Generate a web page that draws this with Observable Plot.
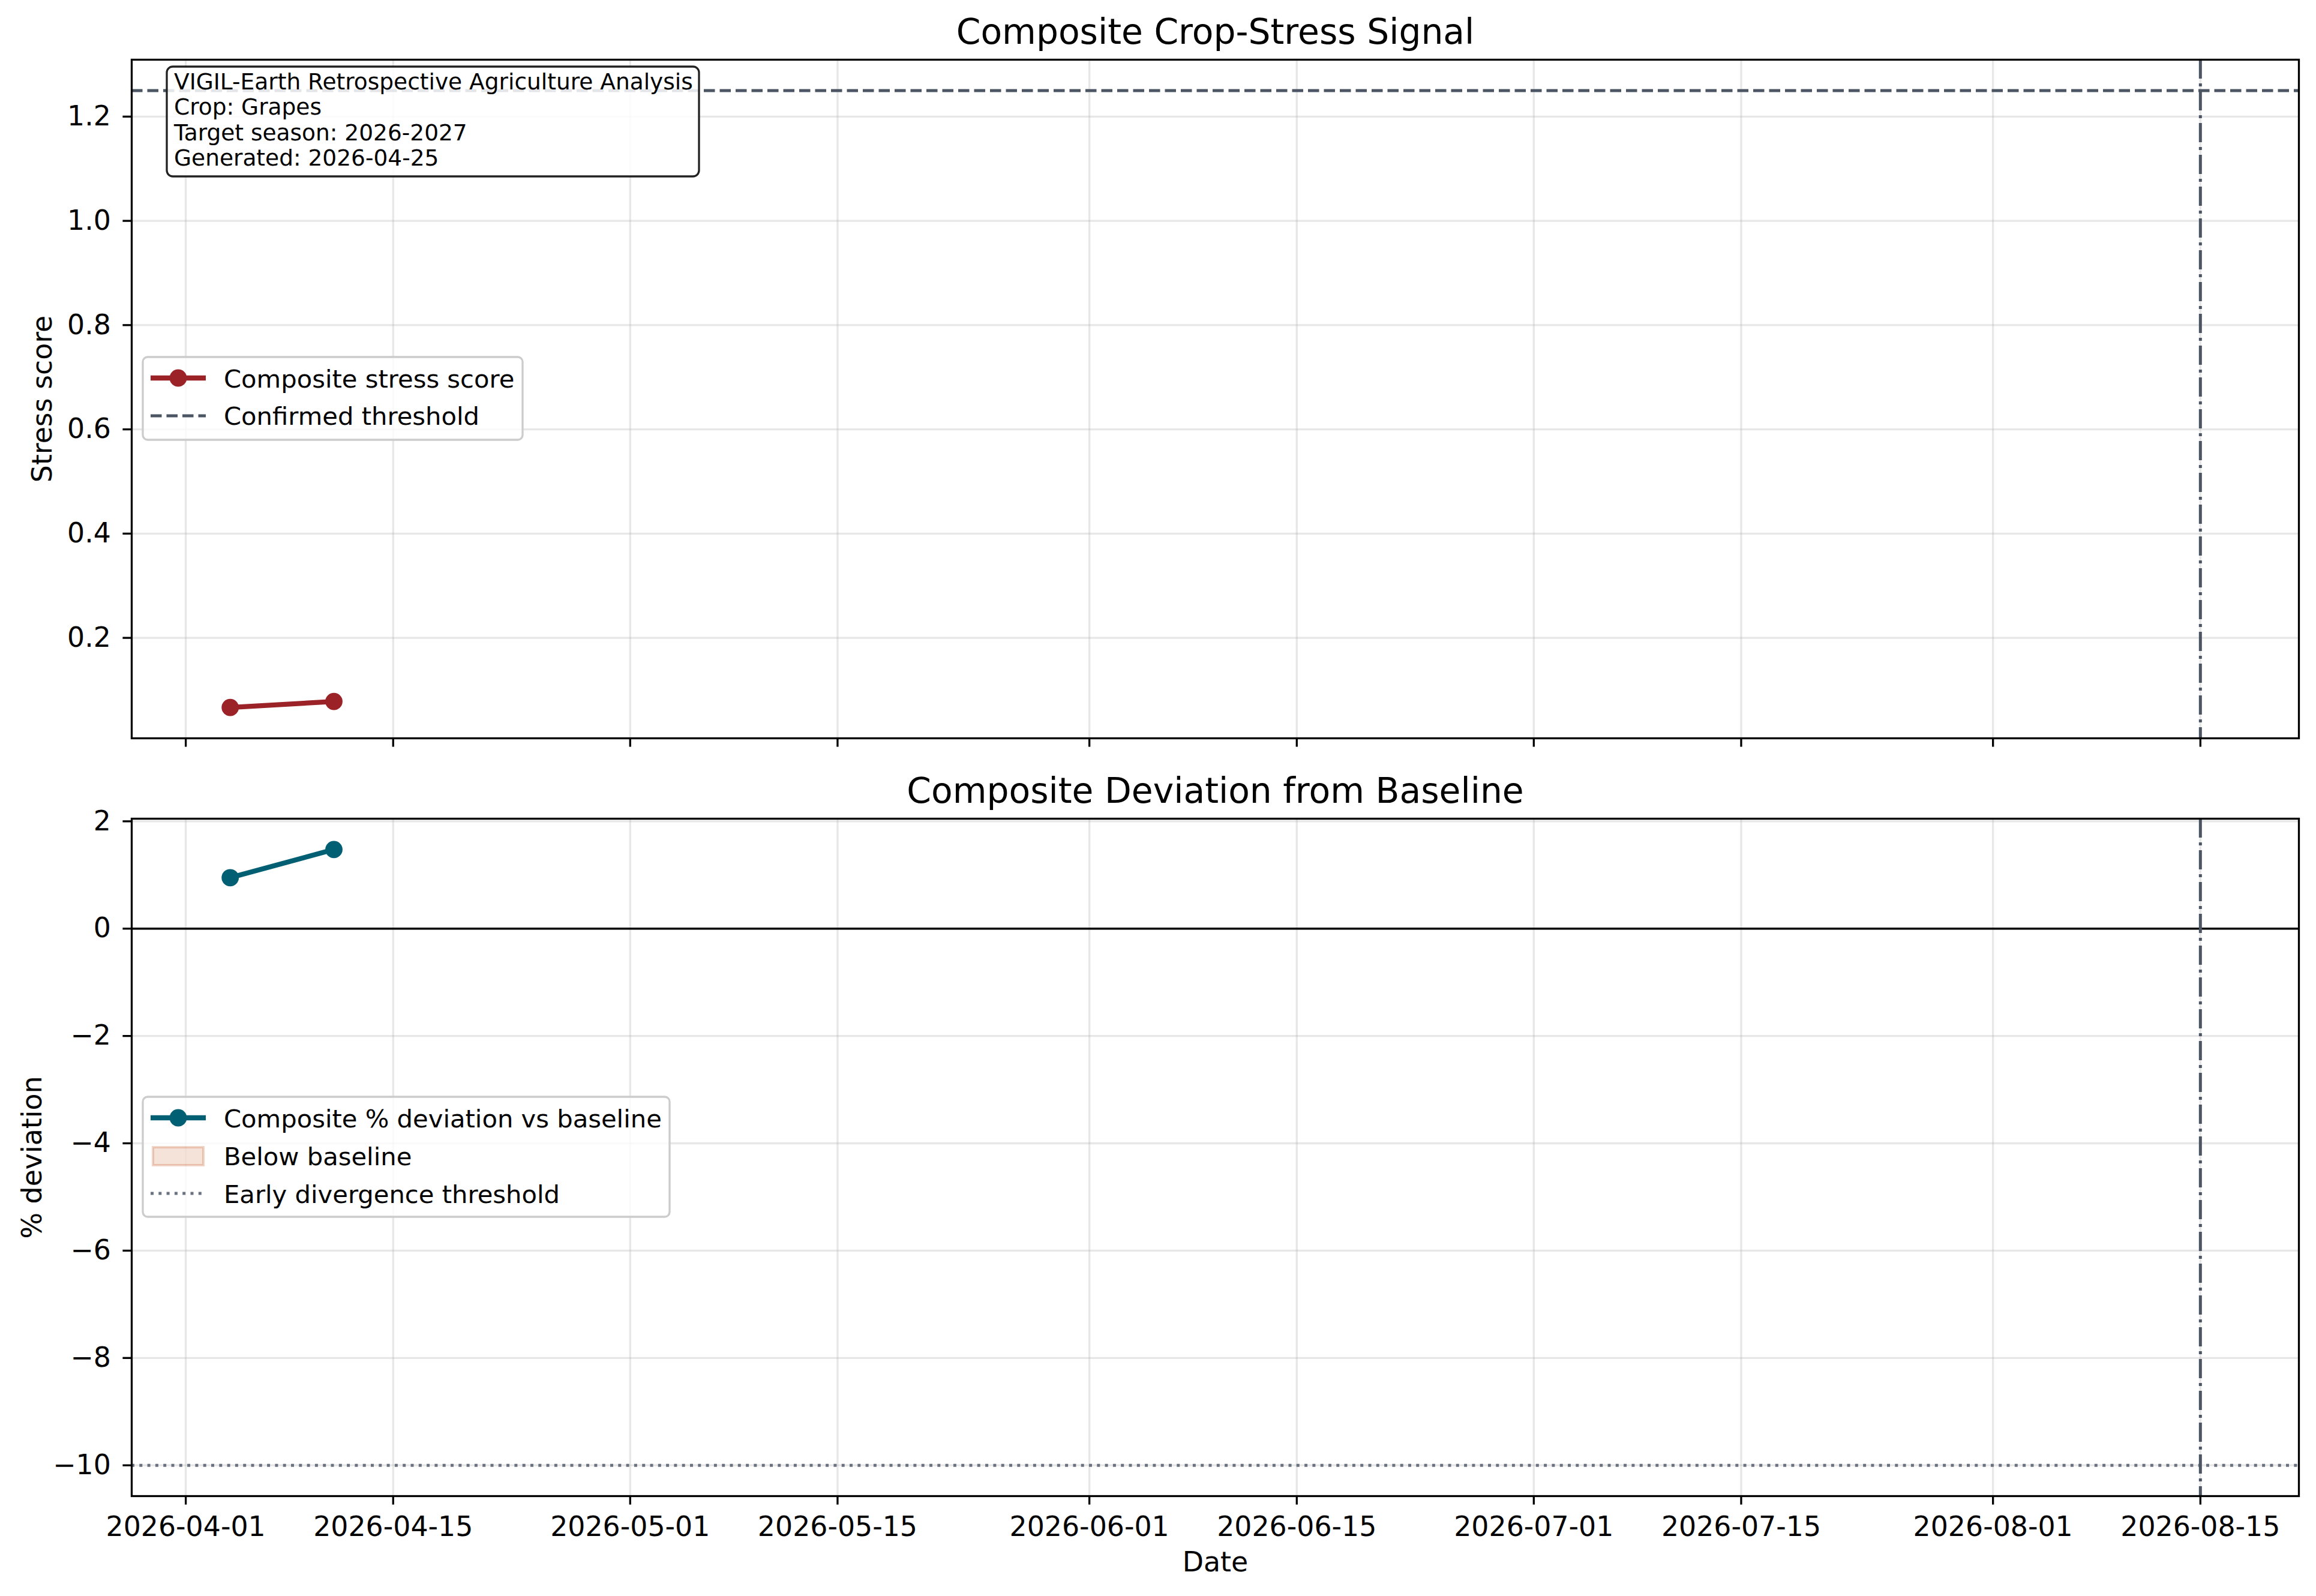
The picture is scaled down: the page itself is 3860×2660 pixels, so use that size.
<!DOCTYPE html>
<html>
<head>
<meta charset="utf-8">
<script src="https://cdn.jsdelivr.net/npm/d3@7"></script>
<script src="https://cdn.jsdelivr.net/npm/@observablehq/plot@0.6"></script>
<style>
  html, body { margin: 0; padding: 0; background: #ffffff; }
  #chart { position: relative; width: 3860px; height: 2660px; overflow: hidden; font-family: "DejaVu Sans"; background: #fff; }
  #chart > svg { position: absolute; left: 0; max-width: none; }
</style>
</head>
<body>
<div id="chart"></div>
<script>
// ---------------- data ----------------
const dates = ["2026-04-04", "2026-04-11"];
const stressScore = [0.0665, 0.078];
const deviationPct = [0.95, 1.475];
const confirmedThreshold = 1.25;
const earlyDivergenceThreshold = -10;
const seasonCutoff = "2026-08-15";
const xTickLabels = ["2026-04-01", "2026-04-15", "2026-05-01", "2026-05-15", "2026-06-01",
                     "2026-06-15", "2026-07-01", "2026-07-15", "2026-08-01", "2026-08-15"];
const stressTicks = [0.2, 0.4, 0.6, 0.8, 1.0, 1.2];
const deviationTicks = [-10, -8, -6, -4, -2, 0, 2];
const titles = ["Composite Crop-Stress Signal", "Composite Deviation from Baseline"];
const xLabel = "Date";
const yLabelTop = "Stress score";
const yLabelBottom = "% deviation";
const legendTopLabels = ["Composite stress score", "Confirmed threshold"];
const legendBottomLabels = ["Composite % deviation vs baseline", "Below baseline", "Early divergence threshold"];
const infoLines = ["VIGIL-Earth Retrospective Agriculture Analysis", "Crop: Grapes",
                   "Target season: 2026-2027", "Generated: 2026-04-25"];

// ---------------- styles ----------------
const C = { stress: "#9b2226", deviation: "#005f73", below: "#bb3e03", ref: "#4b5563", dotted: "#6b7280", grid: "#b0b0b0" };
const FONT = "DejaVu Sans";
const W = 3860;
const ML = 219, MR = 29;
const TICK = 14.6, SPINE = 3.3;

// ---------------- derived table ----------------
const parse = d3.utcParse("%Y-%m-%d");
const rows = dates.map((d, i) => ({ date: parse(d), stress: stressScore[i], dev: deviationPct[i] }));
const cutoff = parse(seasonCutoff);
const tickDates = xTickLabels.map(parse);
const fmtDate = d3.utcFormat("%Y-%m-%d");

const xLo = d3.min(rows, d => d.date), xHi = cutoff;
const xPad = 0.05 * (xHi - xLo);
const xDomain = [new Date(+xLo - xPad), new Date(+xHi + xPad)];

const sLo = d3.min(rows, d => d.stress), sHi = Math.max(d3.max(rows, d => d.stress), confirmedThreshold);
const sPad = 0.05 * (sHi - sLo);
const dLo = Math.min(d3.min(rows, d => d.dev), earlyDivergenceThreshold), dHi = d3.max(rows, d => d.dev);
const dPad = 0.05 * (dHi - dLo);

const minusFmt = d => (d < 0 ? "\u2212" + Math.abs(d) : String(d));
const baseStyle = { fontFamily: FONT, fontSize: "45.8px", color: "#000", background: "transparent", overflow: "visible" };
const gridOpts = { stroke: C.grid, strokeOpacity: 0.3, strokeWidth: 3.3 };
const labelText = { text: d => d, fill: "#000", lineAnchor: "middle", textAnchor: "middle" };

// ---------------- top panel ----------------
const topPlot = Plot.plot({
  width: W, height: 1300,
  marginTop: 99, marginBottom: 70, marginLeft: ML, marginRight: MR,
  x: { type: "utc", domain: xDomain },
  y: { domain: [sLo - sPad, sHi + sPad] },
  style: baseStyle,
  marks: [
    Plot.gridX(tickDates, gridOpts),
    Plot.gridY(stressTicks, gridOpts),
    Plot.ruleY([confirmedThreshold], { stroke: C.ref, strokeWidth: 5, strokeDasharray: "18.5,8" }),
    Plot.ruleX([cutoff], { stroke: C.ref, strokeWidth: 5, strokeDasharray: "32,8,5,8" }),
    Plot.line(rows, { x: "date", y: "stress", stroke: C.stress, strokeWidth: 8.3 }),
    Plot.dot(rows, { x: "date", y: "stress", fill: C.stress, r: 14.4 }),
    Plot.frame({ stroke: "#000", strokeWidth: SPINE }),
    Plot.axisX(tickDates, { tickSize: TICK, tickFormat: () => "", strokeWidth: SPINE, label: null }),
    Plot.axisY(stressTicks, { tickSize: TICK, tickPadding: 20, tickFormat: d => d.toFixed(1), strokeWidth: SPINE, label: null }),
    Plot.text([titles[0]], { ...labelText, frameAnchor: "top", dy: -45, fontSize: 58.3 }),
    Plot.text([yLabelTop], { ...labelText, frameAnchor: "left", dx: -148, rotate: -90, fontSize: 45.8 })
  ]
});
topPlot.style.top = "0px";

// ---------------- bottom panel ----------------
const bottomPlot = Plot.plot({
  width: W, height: 1410,
  marginTop: 114, marginBottom: 167, marginLeft: ML, marginRight: MR,
  x: { type: "utc", domain: xDomain },
  y: { domain: [dLo - dPad, dHi + dPad] },
  style: baseStyle,
  marks: [
    Plot.gridX(tickDates, gridOpts),
    Plot.gridY(deviationTicks, gridOpts),
    Plot.areaY(rows, { x: "date", y1: 0, y2: d => Math.min(0, d.dev), fill: C.below, fillOpacity: 0.15 }),
    Plot.ruleY([0], { stroke: "#000", strokeWidth: SPINE }),
    Plot.ruleY([earlyDivergenceThreshold], { stroke: C.dotted, strokeWidth: 5, strokeDasharray: "5,8.3" }),
    Plot.ruleX([cutoff], { stroke: C.ref, strokeWidth: 5, strokeDasharray: "32,8,5,8" }),
    Plot.line(rows, { x: "date", y: "dev", stroke: C.deviation, strokeWidth: 8.3 }),
    Plot.dot(rows, { x: "date", y: "dev", fill: C.deviation, r: 14.4 }),
    Plot.frame({ stroke: "#000", strokeWidth: SPINE }),
    Plot.axisX(tickDates, { tickSize: TICK, tickPadding: 19, tickFormat: fmtDate, strokeWidth: SPINE, label: null }),
    Plot.axisY(deviationTicks, { tickSize: TICK, tickPadding: 20, tickFormat: minusFmt, strokeWidth: SPINE, label: null }),
    Plot.text([titles[1]], { ...labelText, frameAnchor: "top", dy: -45, fontSize: 58.3 }),
    Plot.text([yLabelBottom], { ...labelText, frameAnchor: "left", dx: -165, rotate: -90, fontSize: 45.8 }),
    Plot.text([xLabel], { ...labelText, frameAnchor: "bottom", dy: 111, fontSize: 45.8 })
  ]
});
bottomPlot.style.top = "1250px";

const chart = document.getElementById("chart");
chart.appendChild(topPlot);
chart.appendChild(bottomPlot);

// ---------------- overlay: info box + legends ----------------
const ov = d3.create("svg").attr("width", W).attr("height", 2660)
  .style("top", "0px").style("font-family", FONT);

// info box
ov.append("rect").attr("x", 278).attr("y", 111).attr("width", 887).attr("height", 183)
  .attr("rx", 10).attr("fill", "#fff").attr("fill-opacity", 0.85)
  .attr("stroke", "#222").attr("stroke-width", 3.3);
infoLines.forEach((t, i) => {
  ov.append("text").attr("x", 290).attr("y", 148.5 + i * 42.6)
    .attr("font-size", 37.5).attr("fill", "#000").text(t);
});

// top legend
ov.append("rect").attr("x", 238).attr("y", 595).attr("width", 633).attr("height", 138)
  .attr("rx", 8).attr("fill", "#fff").attr("fill-opacity", 0.8)
  .attr("stroke", "#cccccc").attr("stroke-width", 3.3);
ov.append("line").attr("x1", 251).attr("x2", 343).attr("y1", 630).attr("y2", 630)
  .attr("stroke", C.stress).attr("stroke-width", 8.3);
ov.append("circle").attr("cx", 297).attr("cy", 630).attr("r", 14.4).attr("fill", C.stress);
ov.append("line").attr("x1", 251).attr("x2", 343).attr("y1", 693).attr("y2", 693)
  .attr("stroke", C.ref).attr("stroke-width", 5).attr("stroke-dasharray", "18.5,8");
ov.append("text").attr("x", 373).attr("y", 646).attr("font-size", 41.7).text(legendTopLabels[0]);
ov.append("text").attr("x", 373).attr("y", 708).attr("font-size", 41.7).text(legendTopLabels[1]);

// bottom legend
ov.append("rect").attr("x", 238).attr("y", 1828).attr("width", 878).attr("height", 200)
  .attr("rx", 8).attr("fill", "#fff").attr("fill-opacity", 0.8)
  .attr("stroke", "#cccccc").attr("stroke-width", 3.3);
ov.append("line").attr("x1", 251).attr("x2", 343).attr("y1", 1863).attr("y2", 1863)
  .attr("stroke", C.deviation).attr("stroke-width", 8.3);
ov.append("circle").attr("cx", 297).attr("cy", 1863).attr("r", 14.4).attr("fill", C.deviation);
ov.append("rect").attr("x", 255).attr("y", 1912).attr("width", 84).attr("height", 30)
  .attr("fill", C.below).attr("fill-opacity", 0.15)
  .attr("stroke", C.below).attr("stroke-opacity", 0.22).attr("stroke-width", 4);
ov.append("line").attr("x1", 251).attr("x2", 343).attr("y1", 1989).attr("y2", 1989)
  .attr("stroke", C.dotted).attr("stroke-width", 5).attr("stroke-dasharray", "5,8.3");
ov.append("text").attr("x", 373).attr("y", 1879).attr("font-size", 41.7).text(legendBottomLabels[0]);
ov.append("text").attr("x", 373).attr("y", 1941.7).attr("font-size", 41.7).text(legendBottomLabels[1]);
ov.append("text").attr("x", 373).attr("y", 2005).attr("font-size", 41.7).text(legendBottomLabels[2]);

chart.appendChild(ov.node());
</script>
</body>
</html>
